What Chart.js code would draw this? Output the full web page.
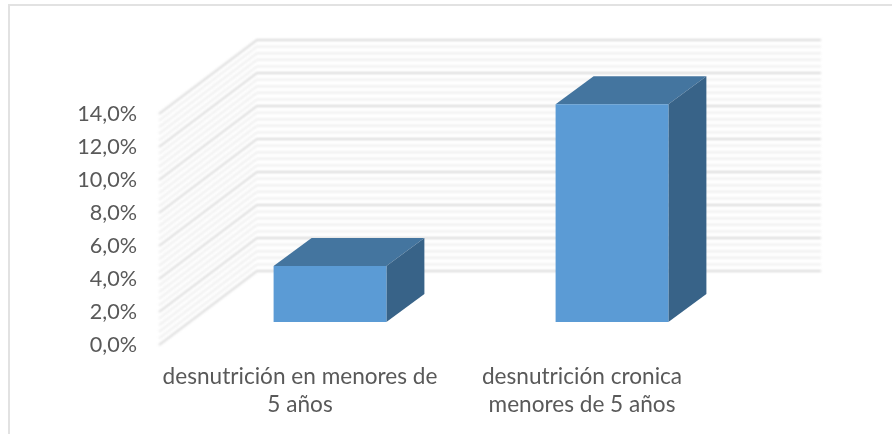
<!DOCTYPE html>
<html>
<head>
<meta charset="utf-8">
<style>
html,body{margin:0;padding:0;background:#fff;}
#wrap{position:relative;width:892px;height:434px;overflow:hidden;}
#frame{position:absolute;left:8px;top:4px;width:900px;height:460px;border-left:2px solid #e2e2e2;border-top:2px solid #e2e2e2;}
canvas{position:absolute;left:0;top:0;}
</style>
<script src="https://cdn.jsdelivr.net/npm/chart.js@4"></script>
</head>
<body>
<div id="wrap"><div id="frame"></div><canvas id="c" width="892" height="434"></canvas></div>
<script>
const categories = [
  ["desnutrición en menores de", "5 años"],
  ["desnutrición cronica", "menores de 5 años"]
];
const values = [3.4, 13.2];
const axisMin = 0;
const axisMax = 14;
const majorStep = 2;
const minorStep = 0.4;

const WALL_DX = 98, WALL_DY = 74;
const BAR_SHIFT_X = 30, BAR_SHIFT_Y = -23;
const BAR_DX = 38, BAR_DY = 28;
const FRONT = "#5b9bd5", TOP = "#44759f", SIDE = "#386388";

const wallPlugin = {
  id: "wall",
  beforeDatasetsDraw(chart) {
    const { ctx, chartArea: a, scales: { y } } = chart;
    ctx.save();
    ctx.filter = "blur(1px)";
    const n = Math.round((axisMax - axisMin) / minorStep);
    const line = (v, color, w) => {
      const py = y.getPixelForValue(v);
      ctx.beginPath();
      ctx.moveTo(a.left, py);
      ctx.lineTo(a.left + WALL_DX, py - WALL_DY);
      ctx.lineTo(a.right + WALL_DX, py - WALL_DY);
      ctx.strokeStyle = color;
      ctx.lineWidth = w;
      ctx.stroke();
    };
    for (let i = 0; i <= n; i++) {
      const v = axisMin + i * minorStep;
      if (Math.abs(v / majorStep - Math.round(v / majorStep)) > 1e-6) line(v, "#f0f0f0", 2.4);
    }
    for (let v = axisMin; v <= axisMax; v += majorStep) line(v, "#d9d9d9", 2);
    ctx.restore();
  },
  beforeDatasetDraw(chart, args) {
    const { ctx } = chart;
    ctx.save();
    ctx.translate(BAR_SHIFT_X, BAR_SHIFT_Y);
    args.meta.data.forEach(bar => {
      const l = bar.x - bar.width / 2, r = bar.x + bar.width / 2;
      const t = bar.y, b = bar.base;
      ctx.fillStyle = TOP;
      ctx.beginPath();
      ctx.moveTo(l, t); ctx.lineTo(l + BAR_DX, t - BAR_DY);
      ctx.lineTo(r + BAR_DX, t - BAR_DY); ctx.lineTo(r, t);
      ctx.closePath(); ctx.fill();
      ctx.fillStyle = SIDE;
      ctx.beginPath();
      ctx.moveTo(r, t); ctx.lineTo(r + BAR_DX, t - BAR_DY);
      ctx.lineTo(r + BAR_DX, b - BAR_DY); ctx.lineTo(r, b);
      ctx.closePath(); ctx.fill();
    });
  },
  afterDatasetDraw(chart) {
    chart.ctx.restore();
  }
};

new Chart(document.getElementById("c"), {
  type: "bar",
  data: {
    labels: categories,
    datasets: [{
      data: values,
      backgroundColor: FRONT,
      barPercentage: 0.4,
      categoryPercentage: 1,
      clip: false
    }]
  },
  plugins: [wallPlugin],
  options: {
    responsive: false,
    animation: false,
    layout: { padding: { left: 0, top: 114, right: 169, bottom: 0 } },
    plugins: { legend: { display: false }, tooltip: { enabled: false }, title: { display: false } },
    scales: {
      x: {
        grid: { display: false },
        border: { display: false },
        afterFit(s) { s.height = 89; },
        ticks: {
          color: "#595959",
          padding: 10,
          maxRotation: 0,
          autoSkip: false,
          font: { family: "Lato", size: 22.6, lineHeight: 1.24 }
        }
      },
      y: {
        min: axisMin,
        max: axisMax,
        grid: { display: false, drawTicks: false },
        border: { display: false },
        afterFit(s) { s.width = 159; },
        ticks: {
          stepSize: majorStep,
          padding: 22,
          color: "#595959",
          font: { family: "Lato", size: 21.6 },
          callback: v => v.toFixed(1).replace(".", ",") + "%"
        }
      }
    }
  }
});
</script>
</body>
</html>
